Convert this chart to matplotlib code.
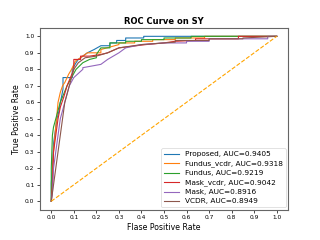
import matplotlib
matplotlib.use("Agg")
import matplotlib.pyplot as plt

labels = ["Proposed, AUC=0.9405", "Fundus_vcdr, AUC=0.9318", "Fundus, AUC=0.9219",
          "Mask_vcdr, AUC=0.9042", "Mask, AUC=0.8916", "VCDR, AUC=0.8949"]
colors = ["#1f77b4", "#ff7f0e", "#2ca02c", "#d62728", "#9467bd", "#8c564b"]

fpr_proposed = [0.0, 0.0, 0.005, 0.01, 0.02, 0.025, 0.035, 0.04, 0.045, 0.052, 0.052, 0.093, 0.093, 0.11, 0.12, 0.14, 0.16, 0.19, 0.22, 0.26, 0.26, 0.29, 0.29, 0.33, 0.33, 0.41, 0.41, 1.0]
tpr_proposed = [0.0, 0.11, 0.2, 0.35, 0.45, 0.5, 0.55, 0.6, 0.63, 0.68, 0.75, 0.75, 0.8, 0.84, 0.86, 0.88, 0.9, 0.92, 0.943, 0.943, 0.96, 0.96, 0.975, 0.975, 0.99, 0.99, 1.0, 1.0]

fpr_fvcdr = [0.0, 0.005, 0.01, 0.02, 0.03, 0.04, 0.05, 0.06, 0.077, 0.09, 0.107, 0.13, 0.16, 0.22, 0.22, 0.3, 0.3, 0.37, 0.37, 0.45, 0.45, 0.55, 0.55, 0.68, 0.68, 1.0]
tpr_fvcdr = [0.0, 0.15, 0.3, 0.45, 0.6, 0.66, 0.7, 0.72, 0.77, 0.8, 0.85, 0.87, 0.9, 0.9, 0.92, 0.95, 0.96, 0.96, 0.97, 0.97, 0.98, 0.98, 0.99, 0.99, 1.0, 1.0]

fpr_fundus = [0.0, 0.0, 0.005, 0.01, 0.02, 0.03, 0.04, 0.055, 0.07, 0.09, 0.11, 0.14, 0.17, 0.2, 0.2, 0.22, 0.26, 0.26, 0.33, 0.33, 0.4, 0.4, 0.5, 0.5, 0.62, 0.62, 1.0]
tpr_fundus = [0.0, 0.2, 0.4, 0.45, 0.5, 0.55, 0.6, 0.65, 0.7, 0.75, 0.8, 0.84, 0.86, 0.87, 0.89, 0.93, 0.93, 0.96, 0.96, 0.97, 0.97, 0.98, 0.98, 0.99, 0.99, 1.0, 1.0]

fpr_mvcdr = [0.0, 0.005, 0.01, 0.02, 0.03, 0.04, 0.055, 0.07, 0.085, 0.1, 0.1, 0.13, 0.13, 0.17, 0.22, 0.25, 0.3, 0.42, 0.5, 0.55, 0.64, 0.64, 0.83, 0.83, 1.0]
tpr_mvcdr = [0.0, 0.1, 0.3, 0.4, 0.5, 0.57, 0.63, 0.7, 0.75, 0.8, 0.86, 0.86, 0.88, 0.88, 0.89, 0.9, 0.93, 0.95, 0.96, 0.97, 0.975, 0.985, 0.985, 1.0, 1.0]

fpr_mask = [0.0, 0.005, 0.01, 0.02, 0.03, 0.04, 0.06, 0.08, 0.1, 0.14, 0.14, 0.22, 0.25, 0.3, 0.33, 0.4, 0.5, 0.6, 0.6, 0.7, 0.7, 0.96, 0.96, 1.0]
tpr_mask = [0.0, 0.05, 0.2, 0.3, 0.4, 0.5, 0.6, 0.7, 0.75, 0.8, 0.81, 0.83, 0.86, 0.9, 0.93, 0.95, 0.96, 0.96, 0.97, 0.97, 0.985, 0.985, 1.0, 1.0]

fpr_vcdr = [0.0, 0.005, 0.01, 0.02, 0.03, 0.04, 0.05, 0.06, 0.08, 0.1, 0.12, 0.15, 0.2, 0.25, 0.3, 0.4, 0.55, 0.55, 0.7, 0.7, 0.85, 0.85, 1.0]
tpr_vcdr = [0.0, 0.05, 0.1, 0.2, 0.3, 0.4, 0.5, 0.6, 0.7, 0.8, 0.84, 0.87, 0.88, 0.9, 0.93, 0.95, 0.965, 0.975, 0.975, 0.985, 0.985, 0.99, 1.0]

series = [(fpr_proposed, tpr_proposed), (fpr_fvcdr, tpr_fvcdr), (fpr_fundus, tpr_fundus),
          (fpr_mvcdr, tpr_mvcdr), (fpr_mask, tpr_mask), (fpr_vcdr, tpr_vcdr)]

diag = [0.0, 1.0]
ticks = [i / 10 for i in range(11)]

fig = plt.figure(figsize=(3.2, 2.4), dpi=100)
ax = fig.add_axes([0.125, 0.127, 0.775, 0.756])
for (x, y), lab, c in zip(series, labels, colors):
    ax.plot(x, y, color=c, lw=0.8, label=lab)
ax.plot(diag, diag, color="orange", lw=0.8, linestyle="--")
ax.set_xticks(ticks)
ax.set_yticks(ticks)
ax.tick_params(labelsize=4.2, length=2, width=0.5, pad=2)
ax.set_xlabel("Flase Positive Rate", fontsize=5.6, labelpad=2)
ax.set_ylabel("True Positive Rate", fontsize=5.6, labelpad=3)
ax.set_title("ROC Curve on SY", fontsize=6, fontweight="bold", pad=3)
for s in ax.spines.values():
    s.set_linewidth(0.8)
    s.set_edgecolor("#666666")
leg = ax.legend(loc="lower right", fontsize=5.3, handlelength=2.0, labelspacing=0.4,
                borderpad=0.4, borderaxespad=0.3, frameon=True)
leg.get_frame().set_linewidth(0.5)
fig.savefig("out.png", dpi=100)
